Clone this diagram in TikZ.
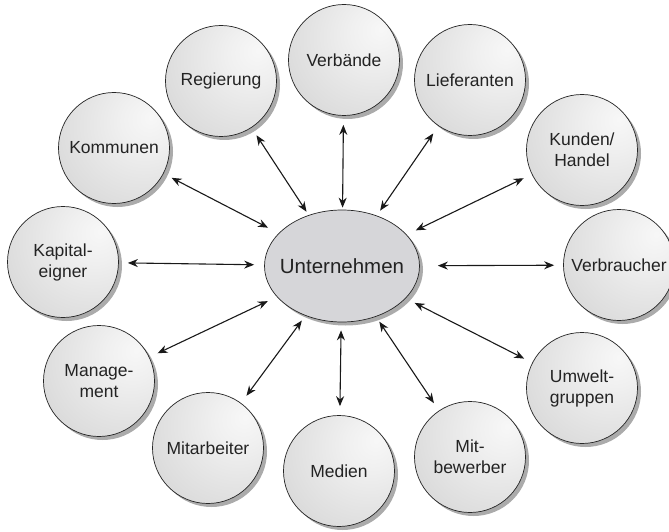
\documentclass[tikz,border=0pt]{standalone}
\usepackage{fontspec}
\setmainfont{Liberation Sans}
\usetikzlibrary{arrows.meta,shadows,shapes.geometric}
\pgfdeclareradialshading{sphereshade}{\pgfpoint{17bp}{14bp}}{%
  color(0bp)=(black!3);
  color(12bp)=(black!6);
  color(35bp)=(black!13);
  color(55bp)=(black!20);
  color(75bp)=(black!23);
  color(100bp)=(black!23)}
\definecolor{ellfill}{RGB}{214,214,217}
\definecolor{txt}{RGB}{35,35,35}
\begin{document}
\begin{tikzpicture}[x=1pt,y=-1pt,
  ball/.style={circle, minimum size=111pt, inner sep=0pt, draw=black!85, line width=0.7pt,
    shading=sphereshade, align=center, text=txt,
    font=\fontsize{17.5}{21}\selectfont,
    general shadow={fill=black!33, shadow xshift=3.5pt, shadow yshift=-3.5pt}},
  mainell/.style={ellipse, minimum width=155pt, minimum height=112pt, inner xsep=-8pt, inner ysep=0pt,
    draw=black!85, line width=0.7pt, fill=ellfill, text=txt,
    font=\fontsize{20.5}{24}\selectfont,
    general shadow={fill=black!33, shadow xshift=3.5pt, shadow yshift=-3.5pt}},
  link/.style={{Stealth[length=10pt,width=8pt]}-{Stealth[length=10pt,width=8pt]},
    line width=1.1pt, black!90, shorten <=#1, shorten >=9pt},
  link/.default=9pt
]
\useasboundingbox (0,0) rectangle (669,532);
\clip (0,0) rectangle (669,532);
\fill[white] (0,0) rectangle (669,532);

\node[mainell] (U) at (342,266) {Unternehmen};

\node[ball] (reg) at (221,81) {Regierung};
\node[ball] (verb) at (344,60) {Verbände};
\node[ball] (lief) at (470,80) {Lieferanten};
\node[ball] (kund) at (582,150) {Kunden/\\Handel};
\node[ball] (vbr) at (619,265) {Verbraucher};
\node[ball] (umw) at (582,388) {Umwelt-\\gruppen};
\node[ball] (mitb) at (470,457) {Mit-\\bewerber};
\node[ball] (med) at (339,471) {Medien};
\node[ball] (mita) at (208,448) {Mitarbeiter};
\node[ball] (man) at (99,381) {Manage-\\ment};
\node[ball] (kap) at (63,262) {Kapital-\\eigner};
\node[ball] (kom) at (114,148) {Kommunen};

\draw[link=12pt] (U) -- (kom);
\draw[link=4pt] (U) -- (reg);
\draw[link=2pt] (U) -- (verb);
\draw[link=6pt] (U) -- (lief);
\draw[link=10pt] (U) -- (kund);
\draw[link=18pt] (U) -- (vbr);
\draw[link=10pt] (U) -- (umw);
\draw[link=6pt] (U) -- (mitb);
\draw[link=8pt] (U) -- (med);
\draw[link=6pt] (U) -- (mita);
\draw[link=10pt] (U) -- (man);
\draw[link=10pt] (U) -- (kap);
\end{tikzpicture}
\end{document}
